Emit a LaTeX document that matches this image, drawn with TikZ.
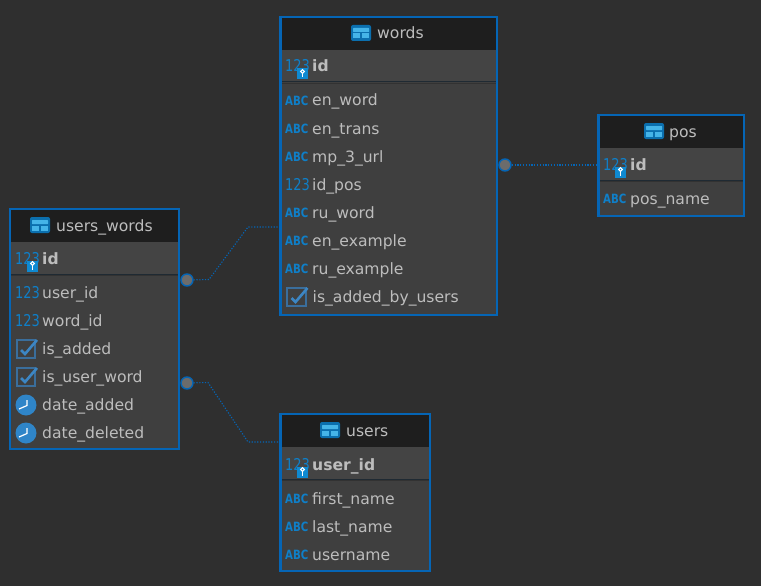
\documentclass[tikz,border=0pt]{standalone}
\usepackage{fontspec}
\setmainfont{DejaVu Sans}
\usetikzlibrary{calc}
\definecolor{bgc}{HTML}{2F2F2F}
\definecolor{hdr}{HTML}{1E1E1E}
\definecolor{bodyc}{HTML}{3F3F3F}
\definecolor{pkc}{HTML}{444444}
\definecolor{bluee}{HTML}{0565B5}
\definecolor{iconb}{HTML}{0F7FC8}
\definecolor{icond}{HTML}{0B6FAE}
\definecolor{iconl}{HTML}{45B4E8}
\definecolor{keyb}{HTML}{0F8AD2}
\definecolor{txt}{HTML}{BDBDBD}
\definecolor{clk}{HTML}{2F85C8}
\definecolor{chk}{HTML}{3A6E9C}
\definecolor{chkm}{HTML}{3C86C4}
\definecolor{linec}{HTML}{1F2A33}
\tikzset{
  x=1pt,y=-1pt,
  tablebox/.style={draw=bluee,line width=2.8pt,fill=bodyc,rectangle,inner sep=0pt,outer sep=0pt,anchor=north west},
  fieldtext/.style={text=txt,font=\fontsize{15.6}{18}\selectfont,anchor=base west,inner sep=0pt},
  keytext/.style={text=txt,font=\fontsize{15.6}{18}\selectfont\bfseries,anchor=base west,inner sep=0pt},
  titletext/.style={text=txt,font=\fontsize{15.6}{18}\selectfont,anchor=base west,inner sep=0pt},
  abctext/.style={text=iconb,font=\fontsize{10.2}{12}\selectfont\bfseries,inner sep=0pt,anchor=base west},
  numtext/.style={text=iconb,font=\fontsize{13}{14}\selectfont,inner sep=0pt,anchor=base west},
  linkdot/.style={circle,draw=bluee,fill=gray!85!black,line width=1.4pt,minimum size=12pt,inner sep=0pt},
  link/.style={draw=bluee,line width=1.1pt,dash pattern=on 1.2pt off 1.6pt},
}
% #1 name #2 x0 #3 y0 #4 x1 #5 y1 #6 header bottom
\newcommand{\tablebody}[6]{%
  \path let \n1={#4-#2},\n2={#5-#3} in node[tablebox,minimum width=\n1 pt,minimum height=\n2 pt] (#1) at (#2,#3) {};
  \fill[hdr] (#2+1.4,#3+1.4) rectangle (#4-1.4,#6);
  \fill[pkc] (#2+1.4,#6) rectangle (#4-1.4,#6+32);
  \draw[linec,line width=1pt] (#2+1.4,#6+32) -- (#4-1.4,#6+32);
  \draw[bodyc!60!hdr,line width=.6pt] (#2+1.4,#6+33.5) -- (#4-1.4,#6+33.5);
}
% table icon at centre #1,#2
\newcommand{\tabicon}[2]{%
  \fill[rounded corners=2pt,fill=icond] (#1-10,#2-8) rectangle (#1+10,#2+8);
  \fill[rounded corners=.5pt,fill=iconl] (#1-8,#2-5) rectangle (#1+8,#2-1);
  \fill[fill=iconl] (#1-8,#2+.5) rectangle (#1-.7,#2+5.5);
  \fill[fill=iconl] (#1+.7,#2+.5) rectangle (#1+8,#2+5.5);
}
% #1 name, #2 x, #3 baseline, #4 text
\newcommand{\abcfield}[4]{%
  \node[abctext] (#1i) at (#2,#3) {\scalebox{1}[1.25]{ABC}};
  \node[fieldtext] (#1) at (#2+27,#3+.5) {#4};
}
\newcommand{\numfield}[4]{%
  \node[numtext] (#1i) at (#2,#3+.5) {\scalebox{1}[1.25]{123}};
  \node[fieldtext] (#1) at (#2+27,#3+.5) {#4};
}
% #1 name #2 x #3 baseline #4 text
\newcommand{\keyfield}[4]{%
  \node[numtext] (#1i) at (#2,#3+.5) {\scalebox{1}[1.25]{123}};
  \fill[keyb] (#2+12,#3-3) rectangle (#2+23,#3+8);
  \draw[white,line width=1.1pt] (#2+17.5,#3) circle (1.9pt);
  \draw[white,line width=1.1pt] (#2+17.5,#3+2) -- (#2+17.5,#3+6);
  \node[keytext] (#1) at (#2+27,#3+.5) {#4};
}
\newcommand{\chkfield}[4]{%
  \draw[chk,line width=2pt] (#2+1.5,#3-13.5) rectangle (#2+20,#3+4.5);
  \draw[chkm,line width=2.6pt] (#2+6,#3-3.5) -- (#2+10,#3+.5) -- (#2+22,#3-13.5);
  \node[fieldtext] (#1) at (#2+27,#3+.5) {#4};
}
\newcommand{\clkfield}[4]{%
  \fill[clk] (#2+11,#3-4.5) circle (10.5pt);
  \draw[white,line width=1.2pt] (#2+12,#3-9.5) -- (#2+12,#3-4) -- (#2+4,#3-.5);
  \node[fieldtext] (#1) at (#2+27,#3+.5) {#4};
}
\begin{document}
\begin{tikzpicture}
\useasboundingbox (0,0) rectangle (761,586);
\fill[bgc] (0,0) rectangle (761,586);

% words
\tablebody{words}{280.5}{17}{497}{315}{50}
\tabicon{361}{33}
\node[titletext] (wordsT) at (377,39) {words};
\keyfield{wid}{285}{71.5}{id}
\abcfield{w1}{285}{105.5}{en\_word}
\abcfield{w2}{285}{133.5}{en\_trans}
\abcfield{w3}{285}{161.5}{mp\_3\_url}
\numfield{w4}{285}{189.5}{id\_pos}
\abcfield{w5}{285}{217.5}{ru\_word}
\abcfield{w6}{285}{245.5}{en\_example}
\abcfield{w7}{285}{273.5}{ru\_example}
\chkfield{w8}{285.5}{301.5}{is\_added\_by\_users}

% pos
\tablebody{pos}{598.5}{115}{744}{216}{148}
\tabicon{654}{131}
\node[titletext] (posT) at (669,137) {pos};
\keyfield{pid}{603}{169.5}{id}
\abcfield{p1}{603}{203.5}{pos\_name}

% users_words
\tablebody{uw}{10}{209}{179}{449}{242}
\tabicon{40}{225}
\node[titletext] (uwT) at (56,231) {users\_words};
\keyfield{uid}{15}{263.5}{id}
\numfield{u1}{15}{297.5}{user\_id}
\numfield{u2}{15}{325.5}{word\_id}
\chkfield{u3}{15}{353.5}{is\_added}
\chkfield{u4}{15}{381.5}{is\_user\_word}
\clkfield{u5}{15}{409.5}{date\_added}
\clkfield{u6}{15}{437.5}{date\_deleted}

% users
\tablebody{us}{280.5}{414}{430}{571}{447}
\tabicon{330}{430}
\node[titletext] (usT) at (346,436) {users};
\keyfield{sid}{285}{469.5}{user\_id}
\abcfield{s1}{285}{503.5}{first\_name}
\abcfield{s2}{285}{531.5}{last\_name}
\abcfield{s3}{285}{559.5}{username}

% connectors
\node[linkdot] (d1) at (187,280) {};
\node[linkdot] (d2) at (187,383) {};
\node[linkdot] (d3) at (505,165) {};
\coordinate (e1) at (words.west |- 0,227);
\coordinate (e2) at (us.west |- 0,442);
\coordinate (e3) at (pos.west |- d3);
\draw[link] (d1) -- (209,279.5) -- (248,227) -- (e1);
\draw[link] (d2) -- (208,382.5) -- (248,442) -- (e2);
\draw[link] (d3) -- (e3);
\end{tikzpicture}
\end{document}
